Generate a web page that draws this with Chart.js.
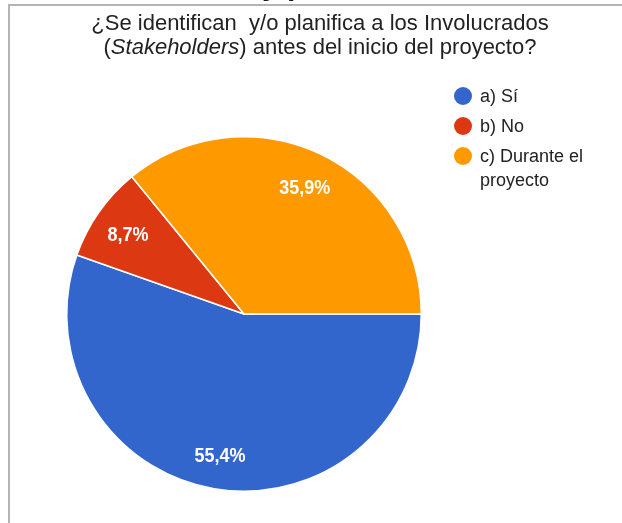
<!DOCTYPE html>
<html>
<head>
<meta charset="utf-8">
<script src="https://cdn.jsdelivr.net/npm/chart.js@4.4.1/dist/chart.umd.min.js"></script>
<style>
  html, body { margin: 0; padding: 0; background: #ffffff; }
  #wrap { position: relative; width: 622px; height: 523px; overflow: hidden; }
  #c { display: block; }
  #frame {
    position: absolute; left: 8px; top: 4px; right: 0; bottom: 0;
    border-top: 2px solid #b4b4b4; border-left: 2px solid #b4b4b4;
    pointer-events: none;
  }
  #above {
    position: absolute; left: 262px; top: -30px; margin: 0;
    font: bold 30px "Liberation Sans", Arial, sans-serif; line-height: 30px;
    color: #111111; white-space: pre;
  }
</style>
</head>
<body>
<div id="wrap">
  <canvas id="c" width="622" height="523" style="width:622px;height:523px"></canvas>
  <p id="above">y p</p>
  <div id="frame"></div>
</div>
<script>
// Survey answers and their shares (percent)
const categories = ['a) Sí', 'b) No', 'c) Durante el proyecto'];
const shares = [55.4, 8.7, 35.9];
const sliceColors = ['#3366cc', '#dc3912', '#ff9900'];

// Title: second line has an italic word
const titleLine1 = [{ text: '¿Se identifican  y/o planifica a los Involucrados', italic: false }];
const titleLine2 = [
  { text: '(', italic: false },
  { text: 'Stakeholders', italic: true },
  { text: ') antes del inicio del proyecto?', italic: false }
];

const FONT = '"Liberation Sans", Arial, sans-serif';

function fmtPct(v) {
  return v.toFixed(1).replace('.', ',') + '%';
}

// Draws the two-line title with mixed upright/italic runs
const titlePlugin = {
  id: 'mixedTitle',
  afterDraw(chart) {
    const ctx = chart.ctx;
    const size = 22;
    const cx = 320;
    const lines = [[titleLine1, 30], [titleLine2, 54]];
    ctx.save();
    ctx.fillStyle = '#222222';
    ctx.textBaseline = 'alphabetic';
    ctx.textAlign = 'left';
    for (const [runs, y] of lines) {
      let total = 0;
      const widths = runs.map(r => {
        ctx.font = (r.italic ? 'italic ' : '') + size + 'px ' + FONT;
        const w = ctx.measureText(r.text).width;
        total += w;
        return w;
      });
      let x = cx - total / 2;
      runs.forEach((r, i) => {
        ctx.font = (r.italic ? 'italic ' : '') + size + 'px ' + FONT;
        ctx.fillText(r.text, x, y);
        x += widths[i];
      });
    }
    ctx.restore();
  }
};

// Percentage labels placed inside each slice along its mid-angle
const sliceLabelPlugin = {
  id: 'sliceLabels',
  afterDatasetsDraw(chart) {
    const ctx = chart.ctx;
    const meta = chart.getDatasetMeta(0);
    ctx.save();
    ctx.font = 'bold 20px ' + FONT;
    ctx.fillStyle = '#ffffff';
    ctx.textAlign = 'center';
    ctx.textBaseline = 'middle';
    meta.data.forEach((arc, i) => {
      const p = arc.getProps(['x', 'y', 'startAngle', 'endAngle', 'outerRadius'], true);
      const mid = (p.startAngle + p.endAngle) / 2;
      const d = p.outerRadius * 0.8;
      const lx = p.x + Math.cos(mid) * d;
      const ly = p.y + Math.sin(mid) * d + 3;
      ctx.save();
      ctx.translate(lx, ly);
      ctx.scale(0.9, 1);
      ctx.fillText(fmtPct(shares[i]), 0, 0);
      ctx.restore();
    });
    ctx.restore();
  }
};

// Legend on the right with round markers and wrapped text
const legendPlugin = {
  id: 'sideLegend',
  afterDraw(chart) {
    const ctx = chart.ctx;
    const x0 = 463, y0 = 96, step = 30, lineH = 24, maxW = 130;
    ctx.save();
    ctx.font = '18px ' + FONT;
    ctx.textBaseline = 'middle';
    ctx.textAlign = 'left';
    let y = y0;
    categories.forEach((label, i) => {
      const words = label.split(' ');
      const lines = [];
      let cur = '';
      for (const w of words) {
        const test = cur ? cur + ' ' + w : w;
        if (cur && ctx.measureText(test).width > maxW) {
          lines.push(cur);
          cur = w;
        } else {
          cur = test;
        }
      }
      lines.push(cur);
      ctx.fillStyle = sliceColors[i];
      ctx.beginPath();
      ctx.arc(x0, y, 9, 0, Math.PI * 2);
      ctx.fill();
      ctx.fillStyle = '#222222';
      lines.forEach((ln, k) => ctx.fillText(ln, x0 + 17, y + 1 + k * lineH));
      y += step + (lines.length - 1) * lineH;
    });
    ctx.restore();
  }
};

new Chart(document.getElementById('c'), {
  type: 'pie',
  data: {
    labels: categories,
    datasets: [{
      data: shares,
      backgroundColor: sliceColors,
      borderColor: '#ffffff',
      borderWidth: 1.5
    }]
  },
  options: {
    responsive: false,
    animation: false,
    rotation: 90,
    layout: { padding: { left: 66, right: 200, top: 136, bottom: 31 } },
    plugins: {
      legend: { display: false },
      title: { display: false },
      tooltip: { enabled: false }
    }
  },
  plugins: [sliceLabelPlugin, titlePlugin, legendPlugin]
});
</script>
</body>
</html>
